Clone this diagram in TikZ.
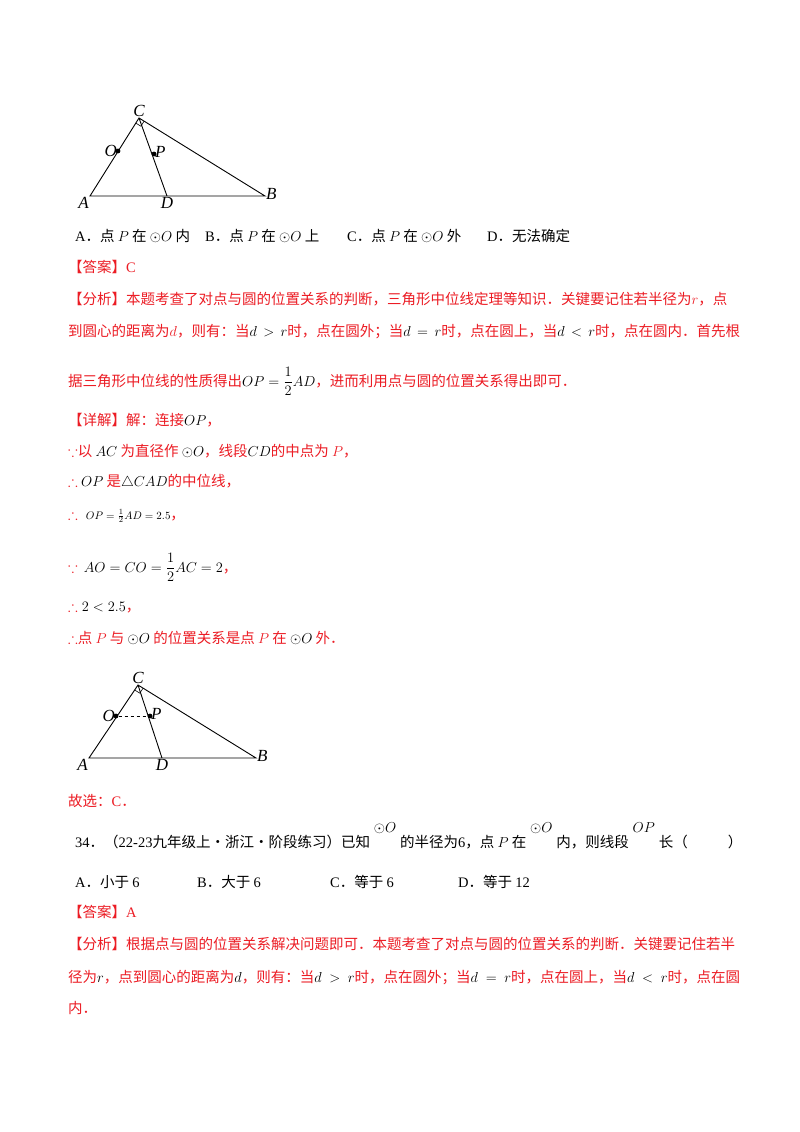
\documentclass[tikz,border=0pt]{standalone}
\usepackage{amsmath,amssymb}
\usepackage{fontspec}
\setmainfont{Noto Sans CJK SC}
\newfontfamily\tnr{Liberation Serif}
\usetikzlibrary{calc}
\XeTeXlinebreaklocale "zh"
\XeTeXlinebreakskip=0pt plus 2pt
\definecolor{rd}{RGB}{236,28,36}
\newcommand\fs{\fontsize{14.5}{16}\selectfont}
\newcommand\jl[1]{\hbox to 672pt{#1}}
\newcommand\up[1]{\raisebox{15pt}{\makebox[30pt]{$#1$}}}
\tikzset{t/.style={anchor=base west,inner sep=0,font=\fs},
 r/.style={t,text=rd},
 lab/.style={inner sep=1pt,font=\tnr\itshape\fontsize{17}{17}\selectfont},
 seg/.style={line width=0.9pt},
 dot/.style={circle,fill,inner sep=1.7pt}}
\newcommand\tri[7]{%
 \coordinate (#1C) at #2; \coordinate (#1A) at #3; \coordinate (#1B) at #4;
 \coordinate (#1D) at #5; \coordinate (#1O) at #6; \coordinate (#1P) at #7;
 \draw[seg] (#1A)--(#1C)--(#1B)--cycle (#1C)--(#1D);
 \draw[line width=0.6pt] ($(#1C)!6pt!(#1A)$) -- ($($(#1C)!6pt!(#1A)$)+($(#1C)!6pt!(#1B)$)-(#1C)$) -- ($(#1C)!6pt!(#1B)$);
 \node[dot] (#1od) at (#1O) {}; \node[dot] (#1pd) at (#1P) {};
 \node[lab,above] at (#1C) {C};
 \node[lab,below left] at (#1A) {A};
 \node[lab,right] at ($(#1B)+(0,-2)$) {B};
 \node[lab,below] at (#1D) {D};
 \node[lab,left] at (#1O) {O};
 \node[lab,right] at ($(#1P)+(0,-2)$) {P};}
\begin{document}
\begin{tikzpicture}[x=1pt,y=-1pt]
\useasboundingbox (0,0) rectangle (800,1132);
\fill[white] (0,0) rectangle (800,1132);
\tri{a}{(139,118)}{(90,196)}{(265,196)}{(167,196)}{(118,151)}{(154,154)}
\node[t] at (75,241) {{\tnr A}．点 $P$ 在 $\odot O$ 内};
\node[t] at (205,241) {{\tnr B}．点 $P$ 在 $\odot O$ 上};
\node[t] at (347,241) {{\tnr C}．点 $P$ 在 $\odot O$ 外};
\node[t] at (487,241) {{\tnr D}．无法确定};
\node[r] at (68,272) {【答案】{\tnr C}};
\node[r] at (68,304) {\jl{【分析】本题考查了对点与圆的位置关系的判断，三角形中位线定理等知识．关键要记住若半径为$r$，点}};
\node[r] at (68,336) {\jl{到圆心的距离为$d$，则有：当\textcolor{black}{$d>r$}时，点在圆外；当\textcolor{black}{$d=r$}时，点在圆上，当\textcolor{black}{$d<r$}时，点在圆内．首先根}};
\node[r] at (68,386) {据三角形中位线的性质得出\textcolor{black}{$OP=\dfrac{1}{2}AD$}，进而利用点与圆的位置关系得出即可．};
\node[r] at (68,425) {【详解】解：连接\textcolor{black}{$OP$}，};
\node[r] at (68,456) {$\because$以 \textcolor{black}{$AC$} 为直径作 \textcolor{black}{$\odot O$}，线段\textcolor{black}{$CD$}的中点为 $P$，};
\node[r] at (68,486) {$\therefore$ \textcolor{black}{$OP$} 是\textcolor{black}{$\triangle CAD$}的中位线，};
\node[r] at (68,519) {$\therefore$\hspace{8pt}\textcolor{black}{\fontsize{11}{12}\selectfont$OP=\frac{1}{2}AD=2.5$}，};
\node[r] at (68,572) {$\because$\hspace{6pt}\textcolor{black}{$AO=CO=\dfrac{1}{2}AC=2$}，};
\node[r] at (68,611) {$\therefore$\hspace{4pt}\textcolor{black}{$2<2.5$}，};
\node[r] at (68,643) {$\therefore$点 $P$ 与 \textcolor{black}{$\odot O$} 的位置关系是点 $P$ 在 \textcolor{black}{$\odot O$} 外．};
\tri{b}{(138,685)}{(89,758)}{(256,758)}{(162,758)}{(116,716)}{(150,716)}
\draw[seg,dashed] (bod)--(bpd);
\node[r] at (68,806) {故选：{\tnr C}．};
\node[t] at (75,847) {{\tnr 34}．（{\tnr 22-23}九年级上·浙江·阶段练习）已知\up{\odot O}的半径为{\tnr 6}，点 $P$ 在\up{\odot O}内，则线段\up{OP}长（\hspace{40pt}）};
\node[t] at (75,887) {{\tnr A}．小于 {\tnr 6}};
\node[t] at (197,887) {{\tnr B}．大于 {\tnr 6}};
\node[t] at (330,887) {{\tnr C}．等于 {\tnr 6}};
\node[t] at (458,887) {{\tnr D}．等于 {\tnr 12}};
\node[r] at (68,917) {【答案】{\tnr A}};
\node[r] at (68,949) {\jl{【分析】根据点与圆的位置关系解决问题即可．本题考查了对点与圆的位置关系的判断．关键要记住若半}};
\node[r] at (68,982) {\jl{径为\textcolor{black}{$r$}，点到圆心的距离为\textcolor{black}{$d$}，则有：当\textcolor{black}{$d>r$}时，点在圆外；当\textcolor{black}{$d=r$}时，点在圆上，当\textcolor{black}{$d<r$}时，点在圆}};
\node[r] at (68,1013) {内．};
\end{tikzpicture}
\end{document}
